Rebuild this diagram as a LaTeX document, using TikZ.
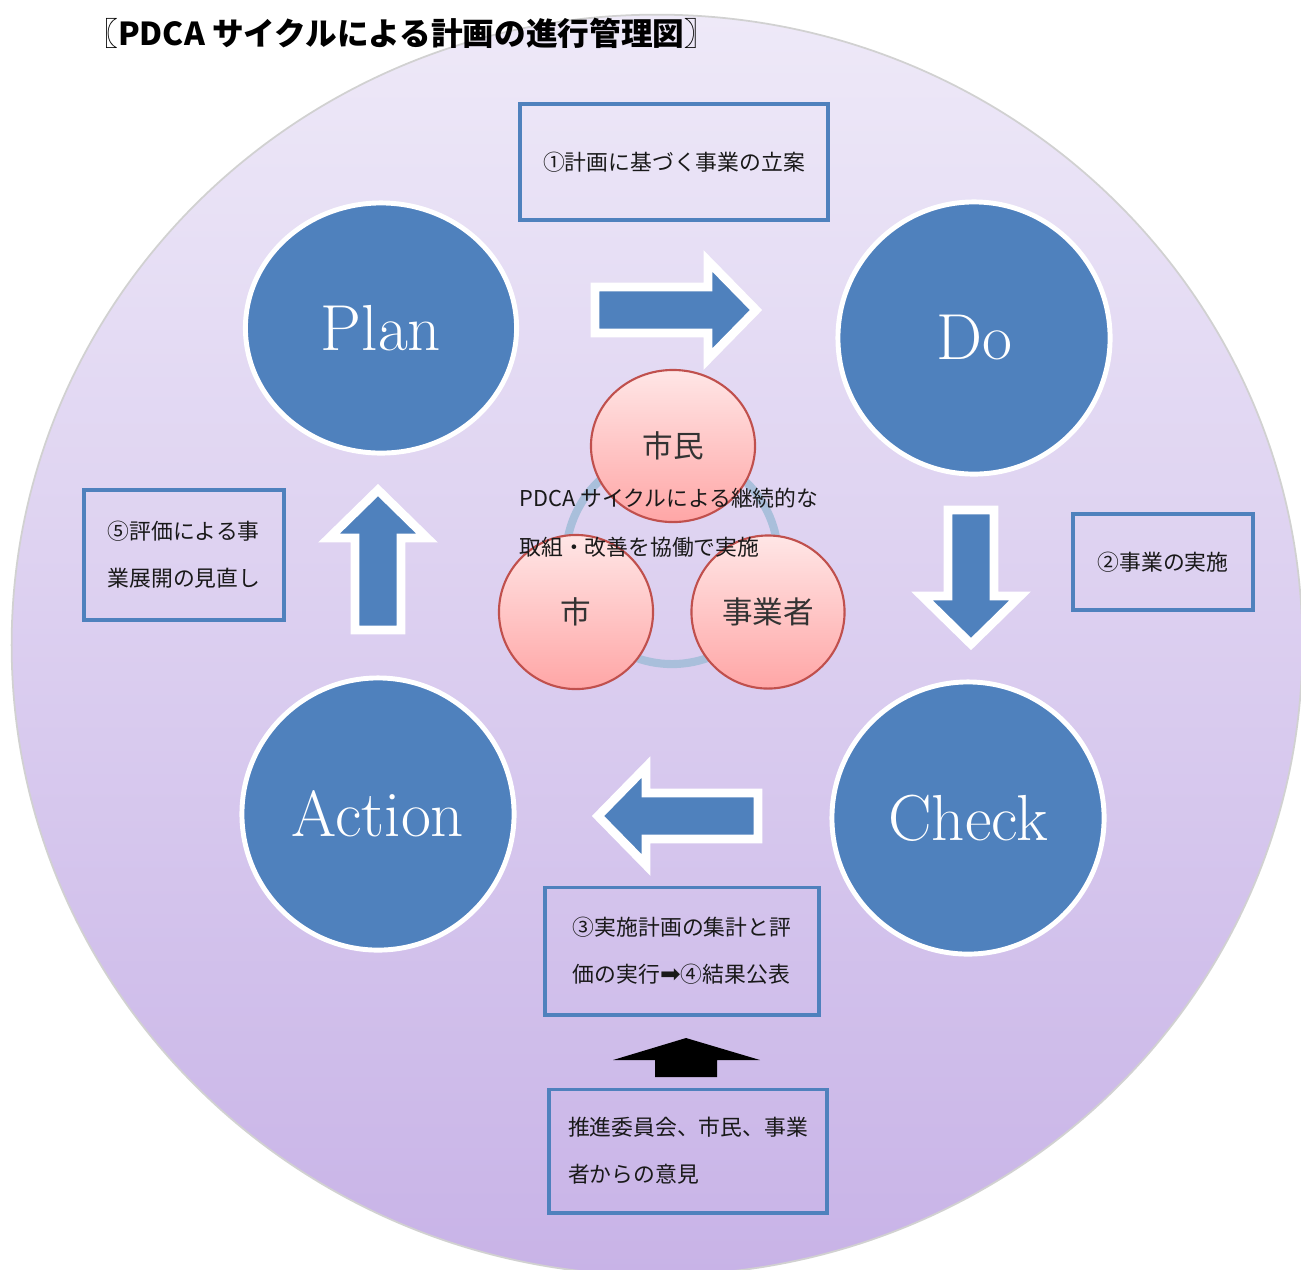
\documentclass[tikz,border=0pt]{standalone}
\usepackage{fontspec}
\usepackage{xcolor}
\usepackage{tikz}
\usetikzlibrary{shapes.geometric,shadows}

\newfontfamily\jpfont{Noto Sans CJK JP}
\newfontfamily\symfont{DejaVu Sans}
\definecolor{pdcablue}{HTML}{4F81BD}
\definecolor{bgtop}{HTML}{EEE9F8}
\definecolor{bgmid}{HTML}{DDD3F0}
\definecolor{bgbot}{HTML}{C8B3E7}
\definecolor{pinktop}{HTML}{FFE6E6}
\definecolor{pinkbot}{HTML}{FFA6A6}
\definecolor{partnerred}{HTML}{C0504D}
\definecolor{ringblue}{HTML}{A9BFDB}

\begin{document}
\begin{tikzpicture}[
    x=0.01cm, y=-0.01cm,
    phase/.style={draw=white, line width=1.4pt, fill=pdcablue, text=white, font=\fontsize{18.5}{22}\selectfont},
    stepbox/.style={draw=pdcablue, line width=1.1pt, rectangle, align=left, text=black!90, font=\jpfont\fontsize{6.2}{13.4}\selectfont},
    partner/.style={draw=partnerred, line width=0.6pt, top color=pinktop, bottom color=pinkbot, text=black!80, font=\jpfont\fontsize{8.7}{10}\selectfont},
    arrowshape/.style={fill=pdcablue, draw=white, line width=2.5pt, line join=miter, drop shadow={shadow xshift=0.6pt, shadow yshift=-0.8pt, opacity=0.25}},
    pics/flow/.style={code={
      \path[arrowshape] (0,-23) -- ({#1-48},-23) -- ({#1-48},-49) -- (#1,0) -- ({#1-48},49) -- ({#1-48},23) -- (0,23) -- cycle;}}
]
  % Page and background
  \useasboundingbox (0,0) rectangle (1301,1269);
  \clip (0,0) rectangle (1301,1269);
  \fill[white] (0,0) rectangle (1301,1269);
  \shade[top color=bgtop, middle color=bgmid, bottom color=bgbot, draw=black!18, line width=0.5pt]
    (657,645) ellipse [x radius=6.45cm, y radius=6.3cm];

  % Partners in the middle
  \draw[ringblue, line width=2.3pt] (672,558) circle [radius=1.06cm];
  \node[partner, ellipse, minimum width=1.64cm, minimum height=1.52cm] (shimin) at (673,446) {市民};
  \node[partner, circle, minimum size=1.54cm] (shi) at (576,612) {市};
  \node[partner, circle, minimum size=1.53cm] (jigyo) at (768,612) {事業者};
  \node[anchor=west, align=left, text=black!90, font=\jpfont\fontsize{6.2}{14}\selectfont] (cycletext) at (507,523)
    {PDCA サイクルによる継続的な\\取組・改善を協働で実施};

  % PDCA phases
  \node[phase, ellipse, minimum width=2.71cm, minimum height=2.5cm] (plan) at (381,328) {Plan};
  \node[phase, circle, minimum size=2.72cm] (do) at (974,338) {Do};
  \node[phase, circle, minimum size=2.72cm] (check) at (968,818) {Check};
  \node[phase, circle, minimum size=2.72cm] (act) at (378,814) {Action};

  % Cycle arrows
  \pic at (595,310) {flow=161};
  \pic[rotate=-90] at (971,510) {flow=134};
  \pic[rotate=180] at (758,816) {flow=160};
  \pic[rotate=90] at (378,630) {flow=140};

  % Steps
  \node[stepbox, minimum width=3.07cm, minimum height=1.16cm] (stepone) at (674,162) {①計画に基づく事業の立案};
  \node[stepbox, minimum width=1.8cm, minimum height=0.96cm] (steptwo) at (1163,562) {②事業の実施};
  \node[stepbox, minimum width=2.73cm, minimum height=1.27cm] (stepthree) at (682,951)
    {③実施計画の集計と評\\価の実行{\symfont\fontsize{7}{7}\selectfont ➡}④結果公表};
  \node[stepbox, minimum width=2.0cm, minimum height=1.3cm] (stepfive) at (184,555) {⑤評価による事\\業展開の見直し};
  \node[stepbox, minimum width=2.78cm, minimum height=1.23cm] (opinion) at (688,1151) {推進委員会、市民、事業\\者からの意見};

  % Opinions feed the evaluation
  \fill[black] (655,1077) -- (655,1060) -- (613,1060) -- (686,1038) -- (760,1060) -- (717,1060) -- (717,1077) -- cycle;

  % Title
  \node[anchor=west, font=\jpfont\bfseries\fontsize{9}{11}\selectfont] (title) at (74,33) {〖PDCA サイクルによる計画の進行管理図〗};
\end{tikzpicture}
\end{document}
